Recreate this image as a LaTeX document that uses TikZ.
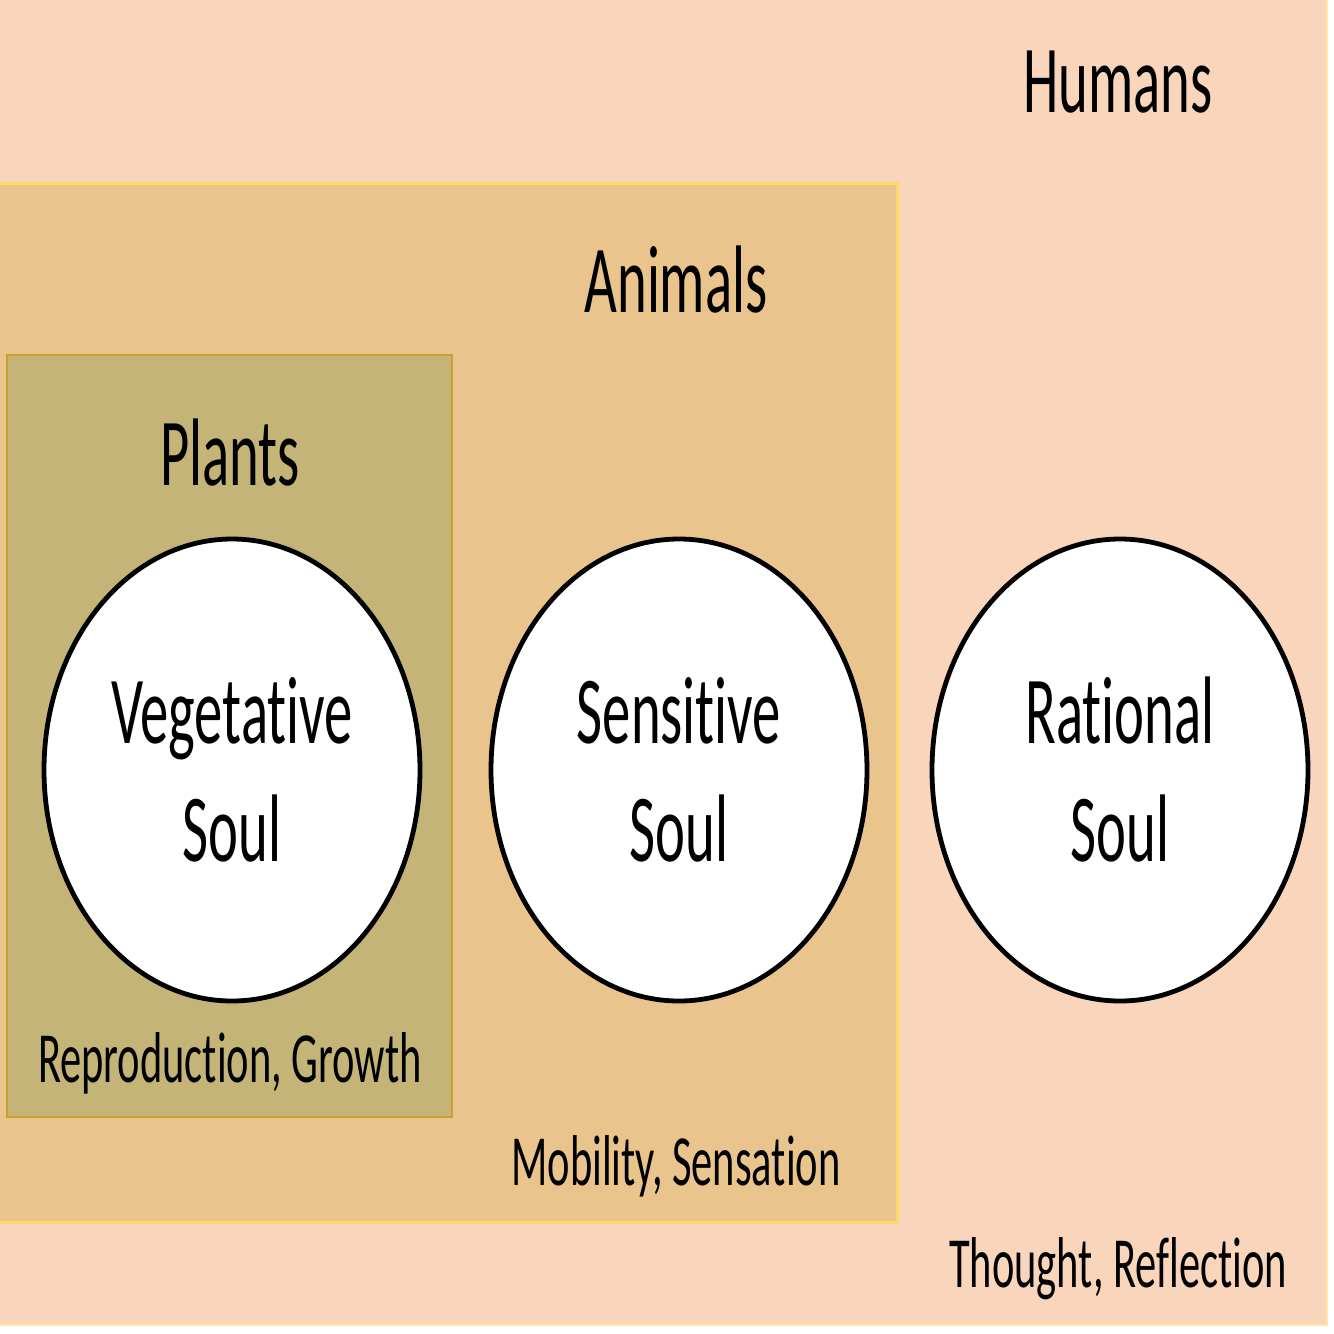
\documentclass[tikz,border=0pt]{standalone}
\usepackage{fontspec}
\setmainfont{Carlito}[FakeStretch=0.59,Ligatures=NoCommon]
\usetikzlibrary{shapes.geometric}

\definecolor{humanfill}{HTML}{F8D5BB}
\definecolor{humanline}{HTML}{FFE8A6}
\definecolor{animalfill}{HTML}{E9C48C}
\definecolor{animalline}{HTML}{FFD966}
\definecolor{plantfill}{HTML}{C5B478}
\definecolor{plantline}{HTML}{C9A02C}

\begin{document}
\begin{tikzpicture}[x=0.5pt,y=-0.5pt,
    soul/.style={ellipse,draw,line width=2.4pt,fill=white,
        minimum width=188pt,minimum height=231pt,inner sep=0pt,
        align=center,font=\fontsize{48}{59}\selectfont},
    kind/.style={anchor=base,font=\fontsize{48}{59}\selectfont},
    power/.style={anchor=base,font=\fontsize{36}{44}\selectfont}
]
    \useasboundingbox[fill=white] (0,0) rectangle (1334,1334);

    % nested boxes
    \filldraw[fill=humanfill,draw=humanline,line width=0.8pt] (-2,-2) rectangle (1327,1325);
    \filldraw[fill=animalfill,draw=animalline,line width=1.5pt] (-2,183) rectangle (897,1222);
    \filldraw[fill=plantfill,draw=plantline,line width=1.2pt] (7,355) rectangle (452,1117);

    % souls
    \node[soul] (veg) at (232,770) {Vegetative\\Soul};
    \node[soul] (sen) at (679,770) {Sensitive\\Soul};
    \node[soul] (rat) at (1120,770) {Rational\\Soul};

    % kinds of living things
    \node[kind] (plants)  at (230,485)  {Plants};
    \node[kind] (animals) at (676,312)  {Animals};
    \node[kind] (humans)  at (1118,112) {Humans};

    % powers
    \node[power] (growth)  at (230,1082)  {Reproduction, Growth};
    \node[power] (sense)   at (676,1185)  {Mobility, Sensation};
    \node[power] (thought) at (1118,1287) {Thought, Reflection};

\end{tikzpicture}
\end{document}
